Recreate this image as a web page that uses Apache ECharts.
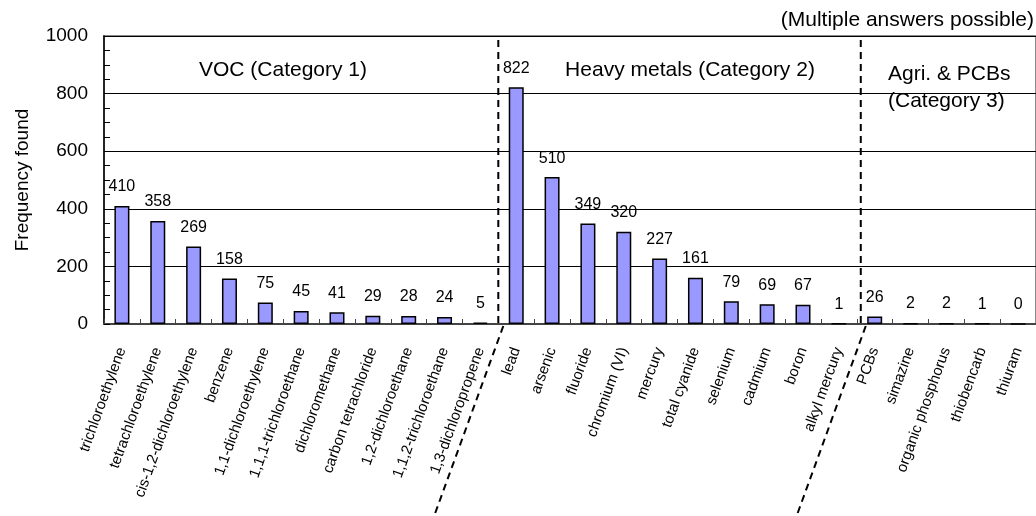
<!DOCTYPE html>
<html>
<head>
<meta charset="utf-8">
<script src="https://cdn.jsdelivr.net/npm/echarts@6/dist/echarts.min.js"></script>
<style>
  html, body { margin: 0; padding: 0; background: #fff; }
  #chart { width: 1036px; height: 516px; }
</style>
</head>
<body>
<div id="chart"></div>
<script>
// Substances detected and how often each was found
const categories = [
  'trichloroethylene', 'tetrachloroethylene', 'cis-1,2-dichloroethylene', 'benzene',
  '1,1-dichloroethylene', '1,1,1-trichloroethane', 'dichloromethane', 'carbon tetrachloride',
  '1,2-dichloroethane', '1,1,2-trichloroethane', '1,3-dichloropropene',
  'lead', 'arsenic', 'fluoride', 'chromium (VI)', 'mercury', 'total cyanide',
  'selenium', 'cadmium', 'boron', 'alkyl mercury',
  'PCBs', 'simazine', 'organic phosphorus', 'thiobencarb', 'thiuram'
];
const frequency = [
  410, 358, 269, 158, 75, 45, 41, 29, 28, 24, 5,
  822, 510, 349, 320, 227, 161, 79, 69, 67, 1,
  26, 2, 2, 1, 0
];
const yTicks = [0, 200, 400, 600, 800, 1000];
// index of the first substance in each group after the first
const groupStarts = [11, 21];

const SANS = '"Liberation Sans", Arial, sans-serif';

const chart = echarts.init(document.getElementById('chart'), null, { renderer: 'canvas' });

chart.setOption({
  animation: false,
  backgroundColor: '#ffffff',
  grid: {
    left: 104, top: 36, width: 934, bottom: 192,
    show: true, borderColor: '#8a8a8a', borderWidth: 2, backgroundColor: 'transparent'
  },
  xAxis: {
    type: 'category',
    data: categories,
    axisLine: { lineStyle: { color: '#444', width: 2 } },
    axisTick: { show: true, inside: true, length: 5, alignWithLabel: false, lineStyle: { color: '#444', width: 1 } },
    axisLabel: {
      interval: 0, rotate: 70, margin: 24,
      fontFamily: SANS, fontSize: 15, color: '#000'
    },
    splitLine: { show: false }
  },
  yAxis: {
    type: 'value',
    min: yTicks[0], max: yTicks[yTicks.length - 1], interval: 200,
    name: 'Frequency found',
    nameLocation: 'middle',
    nameGap: 72,
    nameRotate: 90,
    nameTextStyle: { fontFamily: SANS, fontSize: 19, color: '#000' },
    axisLine: { show: true, lineStyle: { color: '#000', width: 1.5 } },
    axisTick: { show: true, inside: true, length: 6, lineStyle: { color: '#000' } },
    minorTick: { show: true, splitNumber: 4, length: 6, lineStyle: { color: '#000' } },
    axisLabel: {
      margin: 16, fontFamily: SANS, fontSize: 19, color: '#000',
      formatter: (v) => String(v)
    },
    splitLine: { show: true, lineStyle: { color: '#000', width: 1 } }
  },
  series: [{
    type: 'bar',
    data: frequency,
    barWidth: 15,
    itemStyle: { color: '#9999ff', borderColor: '#000', borderWidth: 1.5 },
    label: {
      show: true, position: 'top', distance: 11,
      fontFamily: SANS, fontSize: 16, color: '#000'
    }
  }]
});

// Group captions, dashed separators and the note above the plot
function drawOverlay() {
  const axisY = chart.convertToPixel({ yAxisIndex: 0 }, 0);
  const topY = chart.convertToPixel({ yAxisIndex: 0 }, yTicks[yTicks.length - 1]);
  const H = chart.getHeight();
  const slant = Math.tan(70 * Math.PI / 180);
  const dash = { stroke: '#000', lineWidth: 2, lineDash: [7, 5], fill: null };
  const shifts = [0, 4];

  const elements = [];
  groupStarts.forEach((idx, k) => {
    const a = chart.convertToPixel({ xAxisIndex: 0 }, categories[idx - 1]);
    const b = chart.convertToPixel({ xAxisIndex: 0 }, categories[idx]);
    const x = (a + b) / 2 + shifts[k];
    elements.push({
      type: 'line', z: 10,
      shape: { x1: x, y1: topY + 4, x2: x, y2: axisY + 2 },
      style: dash
    });
    const sx = x + 5, sy = axisY + 2;
    elements.push({
      type: 'line', z: 10,
      shape: { x1: sx, y1: sy, x2: sx - (H - sy) / slant, y2: H },
      style: dash
    });
  });

  const caption = (text, x, y, align) => ({
    type: 'text', z: 20,
    x: x, y: y,
    style: {
      text: text, fill: '#000', font: '21px ' + SANS,
      textAlign: align, textVerticalAlign: 'middle'
    }
  });
  elements.push(caption('VOC (Category 1)', 283, 70, 'center'));
  elements.push(caption('Heavy metals (Category 2)', 690, 70, 'center'));
  elements.push(caption('Agri. & PCBs', 888, 74, 'left'));
  elements.push(caption('(Category 3)', 888, 101, 'left'));
  elements.push(caption('(Multiple answers possible)', 1034, 20, 'right'));

  chart.setOption({ graphic: { elements: elements } });
}
drawOverlay();
</script>
</body>
</html>
